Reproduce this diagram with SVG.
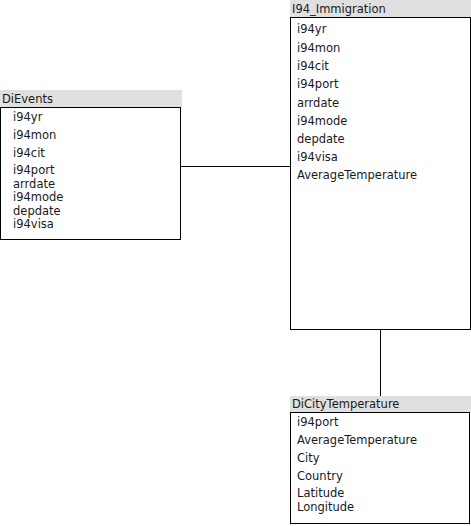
<svg xmlns="http://www.w3.org/2000/svg" width="471" height="526" viewBox="0 0 471 526">
<style>
.hdr{fill:#e0e0e0;stroke:none}
.body{fill:#fff;stroke:#000;stroke-width:1}
text{font-family:"DejaVu Sans",Verdana,sans-serif;font-size:11.5px;fill:#1a1a1a}
.conn{stroke:#000;stroke-width:1;fill:none}
</style>
<rect width="471" height="526" fill="#fff"/>
<g id="connectors">
<line class="conn" x1="180" y1="166.5" x2="290" y2="166.5"/>
<line class="conn" x1="380.5" y1="330" x2="380.5" y2="396"/>
</g>
<g id="DiEvents">
<rect class="body" x="0.5" y="107.5" width="180" height="132"/>
<rect class="hdr" x="0" y="90" width="182" height="17"/>
<text x="2" y="103">DiEvents</text>
<text x="13" y="121">i94yr</text>
<text x="13" y="139">i94mon</text>
<text x="13" y="157">i94cit</text>
<text x="13" y="174">i94port</text>
<text x="13" y="187.5">arrdate</text>
<text x="13" y="201">i94mode</text>
<text x="13" y="214.5">depdate</text>
<text x="13" y="228">i94visa</text>
</g>
<g id="I94_Immigration">
<rect class="body" x="290.5" y="17.5" width="180" height="312"/>
<rect class="hdr" x="290" y="0" width="181" height="17"/>
<text x="292" y="13">I94_Immigration</text>
<text x="297" y="33">i94yr</text>
<text x="297" y="51.5">i94mon</text>
<text x="297" y="70">i94cit</text>
<text x="297" y="88">i94port</text>
<text x="297" y="106.5">arrdate</text>
<text x="297" y="124.5">i94mode</text>
<text x="297" y="142.5">depdate</text>
<text x="297" y="160.5">i94visa</text>
<text x="297" y="178.5">AverageTemperature</text>
</g>
<g id="DiCityTemperature">
<rect class="body" x="290.5" y="412.5" width="179" height="111"/>
<rect class="hdr" x="290" y="396" width="181" height="16"/>
<text x="292" y="408">DiCityTemperature</text>
<text x="297" y="426">i94port</text>
<text x="297" y="444">AverageTemperature</text>
<text x="297" y="462">City</text>
<text x="297" y="480">Country</text>
<text x="297" y="497">Latitude</text>
<text x="297" y="511">Longitude</text>
</g>
</svg>
